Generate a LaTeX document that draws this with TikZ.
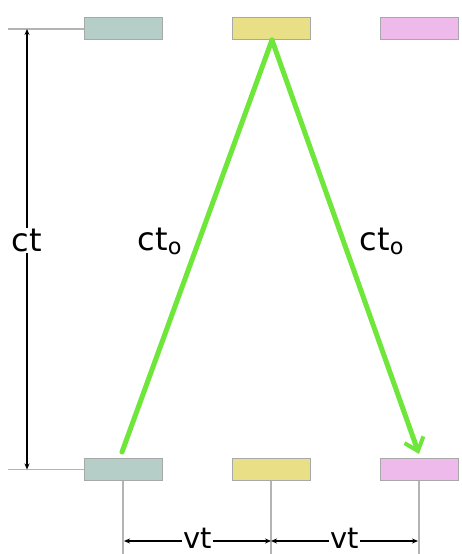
\documentclass[tikz,border=0pt]{standalone}
\usepackage{fontspec}
\setmainfont{DejaVu Sans}
\usepackage{xcolor}
\usepackage{tikz}
\usetikzlibrary{arrows.meta,positioning}
\definecolor{lcteal}{HTML}{B5CFC8}
\definecolor{lcyellow}{HTML}{E8DF86}
\definecolor{lcpink}{HTML}{EEB9EB}
\definecolor{lcframe}{HTML}{A8A8A8}
\definecolor{lcgrid}{HTML}{B4B4B4}
\definecolor{lcbeam}{HTML}{6EE63A}
\tikzset{
  mirror/.style={draw=lcframe,line width=1pt,minimum width=78pt,minimum height=22pt,inner sep=0pt},
  guide/.style={draw=lcgrid,line width=1.4pt},
  beam/.style={draw=lcbeam,line width=5pt,line cap=round},
  dim/.style={{Stealth[length=6pt,width=5pt]}-{Stealth[length=6pt,width=5pt]},line width=1.3pt,draw=black},
  dimlabel/.style={fill=white,inner sep=1pt,font=\fontsize{32}{36}\selectfont}
}
\begin{document}
\begin{tikzpicture}[x=1pt,y=1pt]
    \useasboundingbox (0,0) rectangle (461,554);
    % mirrors at the top
    \node[mirror,fill=lcteal] (t1) at (123,525) {};
    \node[mirror,fill=lcyellow] (t2) at (271,525) {};
    \node[mirror,fill=lcpink] (t3) at (419,525) {};
    % mirrors at the bottom
    \node[mirror,fill=lcteal] (b1) at (123,84.5) {};
    \node[mirror,fill=lcyellow] (b2) at (271,84.5) {};
    \node[mirror,fill=lcpink] (b3) at (419,84.5) {};
    % guide lines
    \coordinate (gtop) at (8,525);
    \coordinate (gbot) at (8,84.5);
    \draw[guide] (gtop)--(t1.west);
    \draw[guide] (gbot)--(b1.west);
    \coordinate (f1) at (123,0);
    \coordinate (f2) at (271,0);
    \coordinate (f3) at (419,0);
    \draw[guide] (b1.south)--(f1);
    \draw[guide] (b2.south)--(f2);
    \draw[guide] (b3.south)--(f3);
    % light path
    \coordinate (src) at (272,514);
    \coordinate (lend) at (122,102);
    \coordinate (rend) at (419,100);
    \draw[beam] (src)--(lend);
    \draw[beam,-{Straight Barb[length=12pt,width=20pt,line width=4pt]}] (src)--(rend);
    \node[dimlabel,fill=none] (lct) at (160,313) {ct\textsubscript{o}};
    \node[dimlabel,fill=none] (rct) at (382,313) {ct\textsubscript{o}};
    % dimensions
    \coordinate (ctA) at (27,525);
    \coordinate (ctB) at (27,84.5);
    \draw[dim] (ctA)--node[dimlabel,pos=0.48] {ct}(ctB);
    \coordinate (v1) at (124,13);
    \coordinate (v2) at (271,13);
    \coordinate (v3) at (418,13);
    \draw[dim] (v1)--node[dimlabel,inner sep=1pt,yshift=3pt,font=\fontsize{29}{33}\selectfont] {vt}(v2);
    \draw[dim] (v2)--node[dimlabel,inner sep=1pt,yshift=3pt,font=\fontsize{29}{33}\selectfont] {vt}(v3);
  \end{tikzpicture}
\end{document}
